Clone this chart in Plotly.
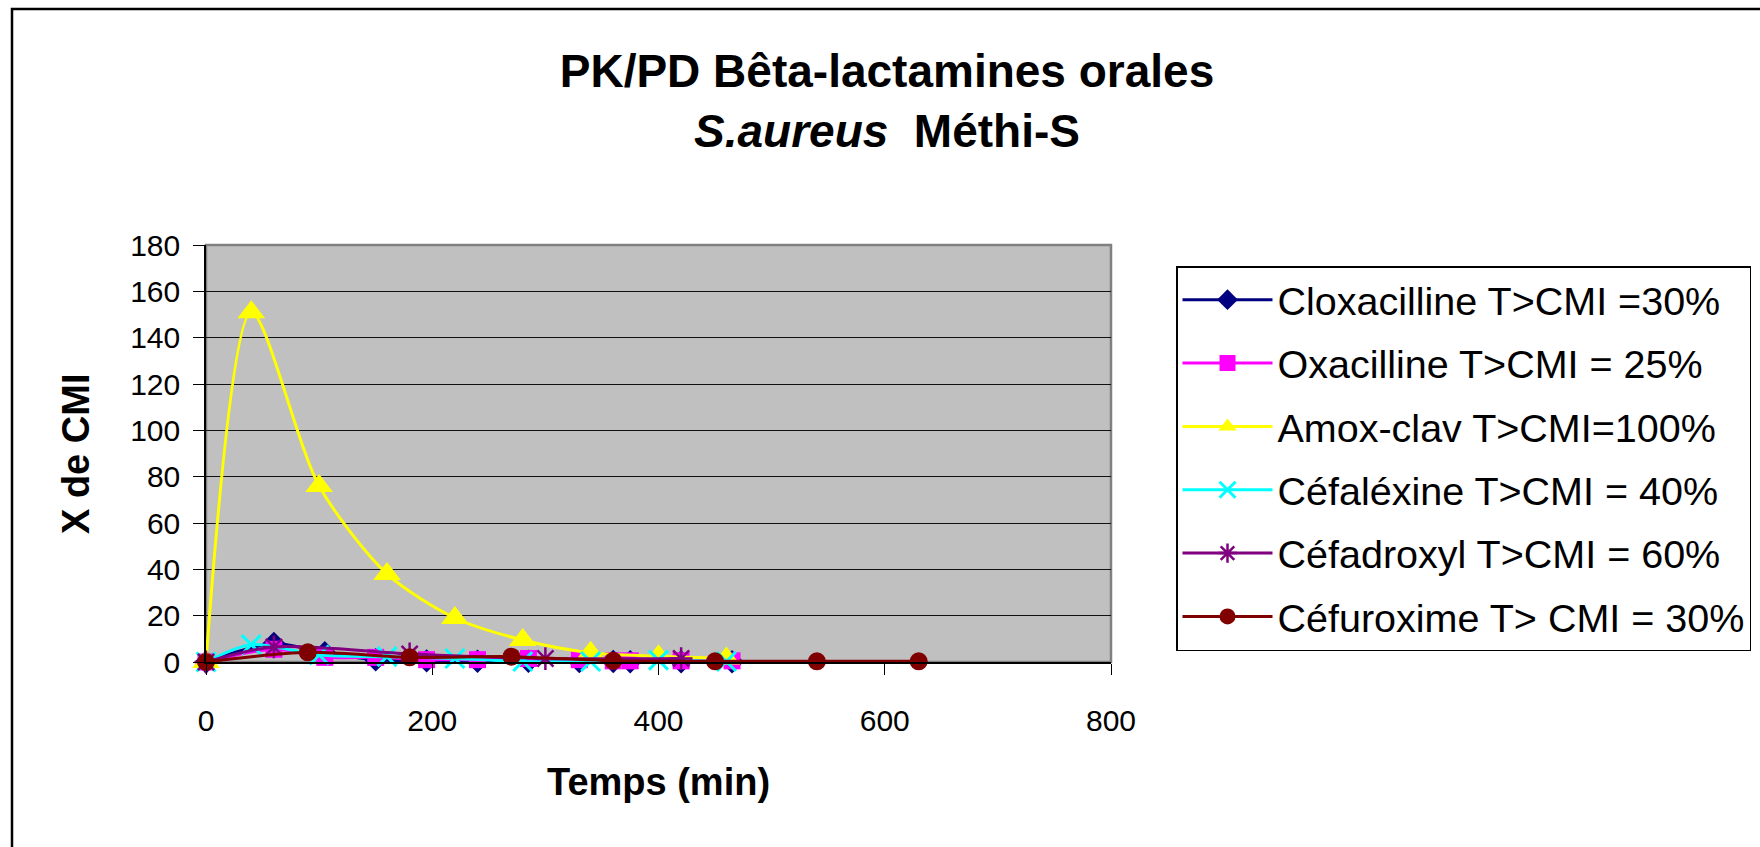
import plotly.graph_objects as go

# ---------------- data ----------------
t_clox = [0, 60, 105, 150, 195, 240, 285, 330, 360, 375, 420, 465]
clox = [0, 8, 4, 1, 0.5, 0.3, 0.3, 0.2, 0.2, 0.1, 0.1, 0.1]

t_oxa = [0, 60, 105, 150, 195, 240, 285, 330, 360, 375, 420, 465]
oxa = [0, 5.5, 2, 2, 1, 1, 1.5, 1, 0.5, 0.5, 0.5, 0.5]

t_amox = [0, 40, 100, 160, 220, 280, 340, 400, 460]
amox = [0, 151, 76, 38, 19, 9.5, 4, 2.5, 1.5]

t_cefalex = [0, 40, 100, 160, 220, 280, 340, 400, 460]
cefalex = [0, 7.5, 3, 2.3, 1.5, 0.2, 0.2, 0.8, 0.2]

t_cefadrox = [0, 60, 180, 300, 420]
cefadrox = [0, 6.5, 3.5, 1.5, 1.5]

t_cefurox = [0, 90, 180, 270, 360, 450, 540, 630]
cefurox = [0, 4.2, 2, 2.3, 0.5, 0.3, 0.3, 0.3]

names = [
    "Cloxacilline T>CMI =30%",
    "Oxacilline T>CMI = 25%",
    "Amox-clav T>CMI=100%",
    "Céfaléxine T>CMI = 40%",
    "Céfadroxyl T>CMI = 60%",
    "Céfuroxime T> CMI = 30%",
]
x_ticks = [0, 200, 400, 600, 800]
y_ticks = [0, 20, 40, 60, 80, 100, 120, 140, 160, 180]

# ---------------- layout helpers ----------------
W, H = 1760, 847
PL, PR, PT, PB = 206, 1111, 245, 662


def xp(px):
    return (px - PL) / (PR - PL)


def yp(py):
    return (PB - py) / (PB - PT)


FONT = "Liberation Sans, Arial, sans-serif"

series = [
    (t_clox, clox, "#000080", dict(symbol="diamond", size=18, color="#000080")),
    (t_oxa, oxa, "#FF00FF", dict(symbol="square", size=17, color="#FF00FF")),
    (t_amox, amox, "#FFFF00", dict(symbol="triangle-up", size=24, color="#FFFF00")),
    (t_cefalex, cefalex, "#00FFFF",
     dict(symbol="x-thin-open", size=19, color="#00FFFF", line=dict(color="#00FFFF", width=3))),
    (t_cefadrox, cefadrox, "#800080",
     dict(symbol="asterisk-open", size=19, color="#800080", line=dict(color="#800080", width=2.5))),
    (t_cefurox, cefurox, "#800000", dict(symbol="circle", size=18, color="#800000")),
]

fig = go.Figure()
for i, (tx, vy, col, mk) in enumerate(series):
    fig.add_trace(go.Scatter(
        x=tx, y=vy, name=names[i], mode="lines+markers",
        line=dict(color=col, width=3, shape="spline", smoothing=0.8),
        marker=mk, cliponaxis=False, legendgroup=f"g{i}",
    ))

fig.update_layout(
    width=W, height=H,
    paper_bgcolor="white", plot_bgcolor="#C0C0C0",
    margin=dict(l=PL, r=W - PR, t=PT, b=H - PB, autoexpand=False),
    font=dict(family=FONT, color="black"),
    title=dict(
        text="<b>PK/PD Bêta-lactamines orales<br><i>S.aureus</i>  Méthi-S</b>",
        x=887 / W, y=1 - 87 / H, xanchor="center", yanchor="middle",
        font=dict(family=FONT, size=46, color="black"),
    ),
    showlegend=True,
    legend=dict(
        x=xp(1176), y=yp(266), xanchor="left", yanchor="top",
        bgcolor="white", bordercolor="black", borderwidth=1.5,
        font=dict(family=FONT, size=39.5, color="black"),
        tracegroupgap=9, itemwidth=90, traceorder="grouped",
    ),
    xaxis=dict(
        range=[0, 800], tickvals=x_ticks, ticktext=[str(v) for v in x_ticks],
        showgrid=False, zeroline=False,
        showline=True, linecolor="black", linewidth=1.5,
        ticks="outside", ticklen=11, tickcolor="black", tickwidth=1,
        tickfont=dict(family=FONT, size=30, color="black"),
        ticklabelstandoff=20,
    ),
    yaxis=dict(
        range=[0, 180], tickvals=y_ticks, ticktext=[str(v) for v in y_ticks],
        showgrid=True, gridcolor="#111111", gridwidth=1, zeroline=False,
        showline=True, linecolor="black", linewidth=1.5,
        ticks="outside", ticklen=11, tickcolor="black", tickwidth=1,
        tickfont=dict(family=FONT, size=30, color="black"),
        ticklabelstandoff=7,
    ),
    annotations=[
        dict(text="<b>Temps (min)</b>", xref="paper", yref="paper",
             x=xp(658), y=yp(782), xanchor="center", yanchor="middle",
             showarrow=False, font=dict(family=FONT, size=38, color="black")),
        dict(text="<b>X de CMI</b>", xref="paper", yref="paper",
             x=xp(76), y=yp(454), xanchor="center", yanchor="middle",
             textangle=-90, showarrow=False,
             font=dict(family=FONT, size=38, color="black")),
    ],
    shapes=[
        dict(type="rect", xref="paper", yref="paper", x0=0, x1=1, y0=0, y1=1,
             line=dict(color="#808080", width=2.5), layer="between"),
        dict(type="rect", xref="paper", yref="paper",
             x0=xp(12), x1=xp(1775), y0=yp(860), y1=yp(9),
             line=dict(color="black", width=2.5), layer="above"),
    ],
)

fig.write_html("out.html", config={"displayModeBar": False},
               post_script="document.body.style.margin='0';")
